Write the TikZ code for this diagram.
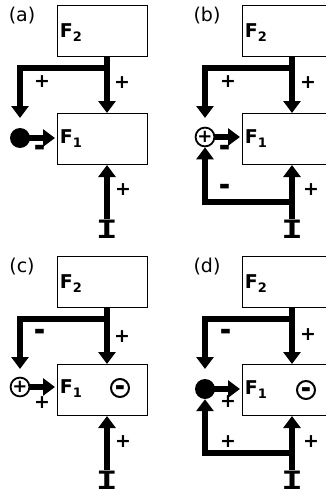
\documentclass[tikz,border=0pt]{standalone}
\usepackage{fontspec}
\setmainfont{DejaVu Sans}
\newfontfamily\sgnfont{DejaVu Sans Bold}
\newfontfamily\monofam{Liberation Mono Bold}
\usetikzlibrary{arrows.meta}
\newcommand{\mysub}[1]{\raisebox{-4pt}{\fontsize{13}{13}\selectfont #1}}
\newcommand{\mydash}{\raisebox{-0.52em}[0pt][0pt]{\scalebox{1.15}[1.9]{–}}}
\begin{document}
\begin{tikzpicture}[x=1pt,y=-1pt,
  sig/.style={line width=6.5pt,line join=miter,-{Triangle[width=17pt,length=12pt]}},
  box/.style={draw,line width=1pt,rectangle,minimum width=90pt,minimum height=51pt,anchor=north west,inner sep=0pt},
  dotnode/.style={circle,fill=black,minimum size=20pt,inner sep=0pt},
  plusnode/.style={circle,draw,line width=1.8pt,minimum size=18pt,inner sep=0pt,font=\sgnfont\fontsize{18}{18}\selectfont},
  minusnode/.style={circle,draw,line width=2pt,minimum size=18pt,inner sep=0pt,font=\sgnfont\fontsize{17}{17}\selectfont},
  flabel/.style={font=\sgnfont\fontsize{19}{19}\selectfont,inner sep=0pt},
  plab/.style={font=\fontsize{19}{19}\selectfont,inner sep=0pt},
  sgn/.style={font=\sgnfont\fontsize{19}{19}\selectfont,inner sep=0pt},
  inp/.style={font=\monofam\fontsize{28}{28}\selectfont,inner sep=0pt,anchor=north},
]
\useasboundingbox (0,0) rectangle (326,495);
\fill[white] (0,0) rectangle (326,495);
\clip (0,0) rectangle (326,495);

% ---------- (a)
\begin{scope}
\node[plab] (aL) at (22,16) {(a)};
\node[box] (aF2) at (57,5) {};
\node[box] (aF1) at (57,113) {};
\node[flabel] (aF2t) at (71,33) {F\mysub{2}};
\node[flabel] (aF1t) at (71,139) {F\mysub{1}};
\coordinate (aj) at (107,68);
\coordinate (alt) at (20,118);
\draw[sig] (aF2.south -| aj) -- (aj) -| (alt);
\draw[sig] (aj) -- (aj |- aF1.north);
\node[dotnode] (aC) at (20,138) {};
\draw[sig] (aC.center) -- ([xshift=-2pt]aF1.west |- aC);
\node[inp] (aI) at (107,220) {\scalebox{1.25}[1]{I}};
\coordinate (ait) at (107,219);
\draw[sig] (ait) -- (ait |- aF1.south);
\node[sgn] (as1) at (42,82) {+};
\node[sgn] (as2) at (122,83) {+};
\node[sgn] (as3) at (40,148) {\mydash};
\node[sgn] (as4) at (123,190) {+};
\end{scope}

% ---------- (b)
\begin{scope}[shift={(185,0)}]
\node[plab] (bL) at (22,16) {(b)};
\node[box] (bF2) at (57,5) {};
\node[box] (bF1) at (57,113) {};
\node[flabel] (bF2t) at (71,33) {F\mysub{2}};
\node[flabel] (bF1t) at (71,139) {F\mysub{1}};
\coordinate (bj) at (107,68);
\coordinate (blt) at (20,118);
\draw[sig] (bF2.south -| bj) -- (bj) -| (blt);
\draw[sig] (bj) -- (bj |- bF1.north);
\node[plusnode] (bC) at (20,137) {+};
\draw[sig] (bC.east) -- ([xshift=-2pt]bF1.west |- bC);
\node[inp] (bI) at (107,220) {\scalebox{1.25}[1]{I}};
\coordinate (bit) at (107,219);
\draw[sig] (bit) -- (bit |- bF1.south);
\coordinate (bk) at (107,202);
\draw[sig] (bk) -| (bC.south);
\node[sgn] (bs1) at (43,82) {+};
\node[sgn] (bs2) at (123,83) {+};
\node[sgn] (bs3) at (40,148) {\mydash};
\node[sgn] (bs4) at (40,187) {\mydash};
\node[sgn] (bs5) at (126,190) {+};
\end{scope}

% ---------- (c)
\begin{scope}[shift={(0,251)}]
\node[plab] (cL) at (22,16) {(c)};
\node[box] (cF2) at (57,5) {};
\node[box] (cF1) at (57,113) {};
\node[flabel] (cF2t) at (71,33) {F\mysub{2}};
\node[flabel] (cF1t) at (71,138) {F\mysub{1}};
\coordinate (cj) at (107,68);
\coordinate (clt) at (20,118);
\draw[sig] (cF2.south -| cj) -- (cj) -| (clt);
\draw[sig] (cj) -- (cj |- cF1.north);
\node[plusnode] (cC) at (20,136) {+};
\draw[sig] (cC.east) -- ([xshift=-2pt]cF1.west |- cC);
\node[minusnode] (cM) at (120,137) {\mydash};
\node[inp] (cI) at (107,220) {\scalebox{1.25}[1]{I}};
\coordinate (cit) at (107,219);
\draw[sig] (cit) -- (cit |- cF1.south);
\node[sgn] (cs1) at (40,81) {\mydash};
\node[sgn] (cs2) at (122,86) {+};
\node[sgn] (cs3) at (42,152) {+};
\node[sgn] (cs4) at (123,191) {+};
\end{scope}

% ---------- (d)
\begin{scope}[shift={(185,251)}]
\node[plab] (dL) at (22,16) {(d)};
\node[box] (dF2) at (57,5) {};
\node[box] (dF1) at (57,113) {};
\node[flabel] (dF2t) at (71,33) {F\mysub{2}};
\node[flabel] (dF1t) at (71,139) {F\mysub{1}};
\coordinate (dj) at (107,68);
\coordinate (dlt) at (20,118);
\draw[sig] (dF2.south -| dj) -- (dj) -| (dlt);
\draw[sig] (dj) -- (dj |- dF1.north);
\node[dotnode] (dC) at (20,138) {};
\draw[sig] (dC.center) -- ([xshift=-2pt]dF1.west |- dC);
\node[minusnode] (dM) at (121,139) {\mydash};
\node[inp] (dI) at (107,220) {\scalebox{1.25}[1]{I}};
\coordinate (dit) at (107,219);
\draw[sig] (dit) -- (dit |- dF1.south);
\coordinate (dk) at (107,202);
\draw[sig] (dk) -| (dC.south);
\node[sgn] (ds1) at (41,81) {\mydash};
\node[sgn] (ds2) at (123,84) {+};
\node[sgn] (ds3) at (43,151) {+};
\node[sgn] (ds4) at (43,191) {+};
\node[sgn] (ds5) at (126,191) {+};
\end{scope}
\end{tikzpicture}
\end{document}
